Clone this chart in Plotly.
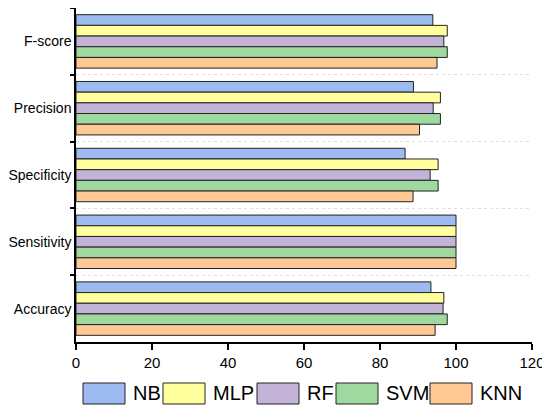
import plotly.graph_objects as go

# metrics, top to bottom as shown
metrics = ["F-score", "Precision", "Specificity", "Sensitivity", "Accuracy"]
models = ["NB", "MLP", "RF", "SVM", "KNN"]

nb = [93.9, 88.8, 86.6, 100, 93.4]
mlp = [97.7, 95.9, 95.3, 100, 96.8]
rf = [96.8, 94.0, 93.2, 100, 96.6]
svm = [97.7, 95.9, 95.3, 100, 97.7]
knn = [95.0, 90.4, 88.7, 100, 94.5]

colors = ["#9dbbf0", "#ffff9e", "#c3b3d9", "#a0d9a0", "#ffc895"]
x_ticks = [0, 20, 40, 60, 80, 100, 120]

series = [nb, mlp, rf, svm, knn]

fig = go.Figure()
for name, vals, col in zip(models, series, colors):
    fig.add_trace(go.Bar(
        y=metrics,
        x=vals,
        name=name,
        orientation="h",
        marker=dict(color=col, line=dict(color="#222222", width=1)),
        showlegend=False
    ))

# hand-made legend with wide swatches like the original
# (pixel positions measured in the window, plot origin at 76, 341)
W = 456.0
H = 334.0
swatch_left = [83, 163, 257, 336, 430]
for px, name, col in zip(swatch_left, models, colors):
    x0 = (px - 76) / W
    x1 = (px + 42 - 76) / W
    fig.add_shape(type="rect", xref="paper", yref="paper",
                  x0=x0, x1=x1, y0=(341 - 382) / H, y1=(341 - 403) / H,
                  fillcolor=col, line=dict(color="#222222", width=1))
    fig.add_annotation(xref="paper", yref="paper", x=(px + 48 - 76) / W,
                       y=(341 - 392.5) / H, text=name, showarrow=False,
                       xanchor="left", yanchor="middle",
                       font=dict(size=20, color="black"))

# page body has an 8px margin, so the figure is a bit smaller than the window
fig.update_layout(
    width=542, height=402,
    margin=dict(l=68, r=18, t=0, b=68),
    barmode="group",
    bargap=0.2,
    bargroupgap=0,
    plot_bgcolor="white",
    paper_bgcolor="white",
    font=dict(family="Liberation Sans, Arial, sans-serif", size=14, color="black"),
)

fig.update_xaxes(
    range=[0, 120], tickvals=x_ticks, ticks="outside", ticklen=6,
    tickwidth=1.5, tickcolor="black", showline=True, linecolor="black",
    linewidth=1.5, showgrid=False, zeroline=False, tickfont=dict(size=15),
    automargin=False
)
fig.update_yaxes(
    autorange="reversed", tickson="boundaries", ticks="outside", ticklen=4,
    tickwidth=1.5, tickcolor="black", showline=True, linecolor="black",
    linewidth=1.5, showgrid=True, gridcolor="#dddddd", griddash="dot",
    gridwidth=1, tickfont=dict(size=14), automargin=False
)

fig.write_html("out.html")
